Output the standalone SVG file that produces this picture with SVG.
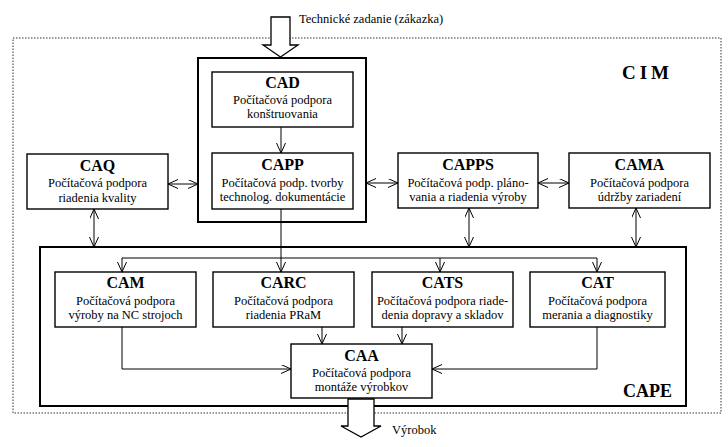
<svg xmlns="http://www.w3.org/2000/svg" width="728" height="447" viewBox="0 0 728 447">
<style>
.bg{fill:#fff}
.box{fill:#fff;stroke:#000;stroke-width:1.4}
.frame{fill:none;stroke:#000;stroke-width:2}
.cim{fill:none;stroke:#333;stroke-width:1;stroke-dasharray:1.5 1.5}
.t{font-family:"Liberation Serif","Times New Roman",serif;font-weight:bold;font-size:16px;text-anchor:middle;fill:#000}
.b{font-family:"Liberation Serif","Times New Roman",serif;font-size:12.5px;text-anchor:middle;fill:#000}
.lbl{font-family:"Liberation Serif","Times New Roman",serif;font-size:12.5px;fill:#000}
.big{font-family:"Liberation Serif","Times New Roman",serif;font-weight:bold;fill:#000}
.c{fill:none;stroke:#000;stroke-width:1}
.one{marker-end:url(#ah)}
.two{marker-start:url(#ah);marker-end:url(#ah)}
.hollow{fill:#fff;stroke:#000;stroke-width:1.3}
</style>
<defs>
<marker id="ah" markerUnits="userSpaceOnUse" markerWidth="12" markerHeight="11" refX="10" refY="4.5" orient="auto-start-reverse" viewBox="0 0 12 11">
<path d="M0,0 L10,4.5 L0,9" fill="none" stroke="#000" stroke-width="1"/>
</marker>
</defs>
<rect class="bg" x="0" y="0" width="728" height="447"/>

<g id="cim-frame">
<rect class="cim" x="13" y="38" width="708" height="375"/>
<text class="big" x="622" y="79" font-size="19" letter-spacing="4">CIM</text>
</g>

<g id="cape-frame">
<rect class="frame" x="40" y="247" width="646" height="159"/>
<text class="big" x="623" y="397" font-size="18">CAPE</text>
</g>

<g id="design-frame">
<rect class="frame" x="198" y="58" width="168" height="164"/>
</g>

<g id="connectors">
<line class="c one" x1="281" y1="127" x2="281" y2="153"/>
<line class="c two" x1="168" y1="184" x2="198" y2="184"/>
<line class="c two" x1="366" y1="183" x2="398" y2="183"/>
<line class="c two" x1="538" y1="183" x2="569" y2="183"/>
<line class="c two" x1="94" y1="209" x2="94" y2="247"/>
<line class="c two" x1="469" y1="208" x2="469" y2="247"/>
<line class="c two" x1="636" y1="208" x2="636" y2="247"/>
<line class="c one" x1="281" y1="209" x2="281" y2="272"/>
<line class="c" x1="122" y1="258" x2="597" y2="258"/>
<line class="c one" x1="122" y1="258" x2="122" y2="272"/>
<line class="c one" x1="440" y1="258" x2="440" y2="272"/>
<line class="c one" x1="597" y1="258" x2="597" y2="272"/>
<line class="c one" x1="322" y1="327" x2="322" y2="344"/>
<line class="c one" x1="402" y1="327" x2="402" y2="344"/>
<polyline class="c one" points="122,327 122,369 291,369"/>
<polyline class="c one" points="597,327 597,369 432,369"/>
</g>

<g id="input-arrow">
<path class="hollow" d="M271,17 L290,17 L290,45 L298,45 L280.5,57 L263,45 L271,45 Z"/>
<text class="lbl" x="299" y="23">Technické zadanie (zákazka)</text>
</g>

<g id="output-arrow">
<path class="hollow" d="M348,399 L374,399 L374,426 L381,426 L361,437 L341,426 L348,426 Z"/>
<text class="lbl" x="392" y="434">Výrobok</text>
</g>

<g id="CAD">
<rect class="box" x="212" y="72" width="141" height="55"/>
<text class="t" x="282.5" y="88">CAD</text>
<text class="b" x="282.5" y="104">Počítačová podpora</text>
<text class="b" x="282.5" y="118">konštruovania</text>
</g>

<g id="CAPP">
<rect class="box" x="212" y="153" width="141" height="56"/>
<text class="t" x="282.5" y="170">CAPP</text>
<text class="b" x="282.5" y="187">Počítačová podp. tvorby</text>
<text class="b" x="282.5" y="201">technolog. dokumentácie</text>
</g>

<g id="CAQ">
<rect class="box" x="27" y="154" width="141" height="55"/>
<text class="t" x="97.5" y="171">CAQ</text>
<text class="b" x="97.5" y="187">Počítačová podpora</text>
<text class="b" x="97.5" y="202">riadenia kvality</text>
</g>

<g id="CAPPS">
<rect class="box" x="398" y="153" width="140" height="55"/>
<text class="t" x="468" y="170">CAPPS</text>
<text class="b" x="468" y="187">Počítačová podp. pláno-</text>
<text class="b" x="468" y="201">vania a riadenia výroby</text>
</g>

<g id="CAMA">
<rect class="box" x="569" y="153" width="141" height="55"/>
<text class="t" x="639.5" y="170">CAMA</text>
<text class="b" x="639.5" y="187">Počítačová podpora</text>
<text class="b" x="639.5" y="201">údržby zariadení</text>
</g>

<g id="CAM">
<rect class="box" x="55" y="272" width="141" height="55"/>
<text class="t" x="125.5" y="288">CAM</text>
<text class="b" x="125.5" y="305">Počítačová podpora</text>
<text class="b" x="125.5" y="319">výroby na NC strojoch</text>
</g>

<g id="CARC">
<rect class="box" x="213" y="272" width="141" height="55"/>
<text class="t" x="283.5" y="288">CARC</text>
<text class="b" x="283.5" y="305">Počítačová podpora</text>
<text class="b" x="283.5" y="319">riadenia PRaM</text>
</g>

<g id="CATS">
<rect class="box" x="372" y="272" width="141" height="55"/>
<text class="t" x="442.5" y="288">CATS</text>
<text class="b" x="442.5" y="305">Počítačová podpora riade-</text>
<text class="b" x="442.5" y="319">denia dopravy a skladov</text>
</g>

<g id="CAT">
<rect class="box" x="530" y="272" width="135" height="55"/>
<text class="t" x="597.5" y="288">CAT</text>
<text class="b" x="597.5" y="305">Počítačová podpora</text>
<text class="b" x="597.5" y="319">merania a diagnostiky</text>
</g>

<g id="CAA">
<rect class="box" x="291" y="344" width="141" height="54"/>
<text class="t" x="361.5" y="361">CAA</text>
<text class="b" x="361.5" y="377">Počítačová podpora</text>
<text class="b" x="361.5" y="391">montáže výrobkov</text>
</g>
</svg>
